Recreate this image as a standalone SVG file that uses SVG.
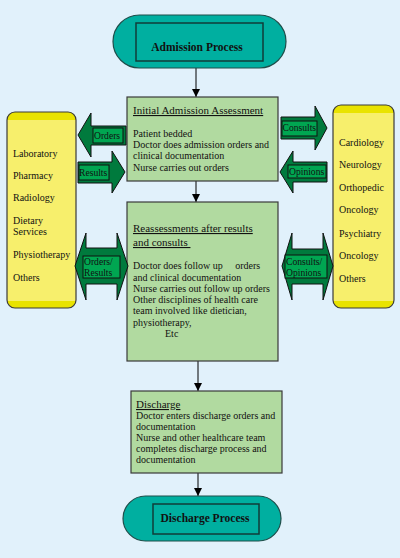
<svg xmlns="http://www.w3.org/2000/svg" width="400" height="558" viewBox="0 0 400 558">
<defs>
<marker id="ah" viewBox="0 0 10 10" refX="10" refY="5" markerWidth="8" markerHeight="9" markerUnits="userSpaceOnUse" orient="auto">
<path d="M0,0 L10,5 L0,10 Z" fill="#000"/>
</marker>
<style>
text{font-family:"Liberation Serif","Times New Roman",serif;fill:#111;}
.b{font-size:10px;}
.t{font-size:11px;text-decoration:underline;}
.p{font-size:11.5px;font-weight:bold;text-anchor:middle;}
.lbl{font-size:9.6px;}
.pill{fill:#00AFA0;stroke:#1F4E4A;stroke-width:1.2;}
.pin{fill:#00AFA0;stroke:#103C38;stroke-width:1.5;}
.box{fill:#B1DAA0;stroke:#3A3A3A;stroke-width:1.2;}
.ar{fill:#007A3D;stroke:#111;stroke-width:1;}
.al{fill:#00A651;stroke:#111;stroke-width:1;}
.cap{fill:#E9E300;}
.yl{fill:#F7EF6C;}
.yo{fill:none;stroke:#3A3A3A;stroke-width:1.2;}
.cn{stroke:#000;stroke-width:1;fill:none;marker-end:url(#ah);}
</style>
</defs>
<rect x="0" y="0" width="400" height="558" fill="#E1F1FB"/>

<g id="connectors">
<line class="cn" x1="196" y1="68" x2="196" y2="97"/>
<line class="cn" x1="196" y1="181" x2="196" y2="202"/>
<line class="cn" x1="198" y1="361" x2="198" y2="391"/>
<line class="cn" x1="198" y1="473" x2="198" y2="496"/>
</g>

<g id="admission-process">
<rect class="pill" x="113" y="15" width="173" height="53" rx="26.5"/>
<rect class="pin" x="136" y="23" width="127" height="38"/>
<text class="p" x="197" y="51">Admission Process</text>
</g>

<g id="initial-assessment">
<rect class="box" x="127" y="97" width="151" height="84"/>
<text class="t" x="133" y="114">Initial Admission Assessment</text>
<text class="b" x="133" y="137">Patient bedded</text>
<text class="b" x="133" y="148">Doctor does admission orders and</text>
<text class="b" x="133" y="159">clinical documentation</text>
<text class="b" x="133" y="171">Nurse carries out orders</text>
</g>

<g id="reassessments">
<rect class="box" x="127" y="202" width="151" height="159"/>
<text class="t" x="133" y="232">Reassessments after results</text>
<text class="t" x="133" y="246" xml:space="preserve">and consults </text>
<text class="b" x="133" y="269" xml:space="preserve">Doctor does follow up     orders</text>
<text class="b" x="133" y="280.5">and clinical documentation</text>
<text class="b" x="133" y="292">Nurse carries out follow up orders</text>
<text class="b" x="133" y="303">Other disciplines of health care</text>
<text class="b" x="133" y="314">team involved like dietician,</text>
<text class="b" x="133" y="325.5">physiotherapy,</text>
<text class="b" x="165" y="337">Etc</text>
</g>

<g id="discharge">
<rect class="box" x="131" y="391" width="151" height="82"/>
<text class="t" x="136" y="408">Discharge</text>
<text class="b" x="136" y="419">Doctor enters discharge orders and</text>
<text class="b" x="136" y="430">documentation</text>
<text class="b" x="136" y="441">Nurse and other healthcare team</text>
<text class="b" x="136" y="452">completes discharge process and</text>
<text class="b" x="136" y="463">documentation</text>
</g>

<g id="discharge-process">
<rect class="pill" x="123" y="496" width="158" height="45" rx="22.5"/>
<rect class="pin" x="153" y="504" width="106" height="30"/>
<text class="p" x="205" y="522">Discharge Process</text>
</g>

<g id="left-services">
<rect class="cap" x="7" y="112" width="69" height="196" rx="8"/>
<rect class="yl" x="7" y="120" width="69" height="181"/>
<rect class="yo" x="7" y="112" width="69" height="196" rx="8"/>
<text class="b" x="13" y="157">Laboratory</text>
<text class="b" x="13" y="179">Pharmacy</text>
<text class="b" x="13" y="201">Radiology</text>
<text class="b" x="13" y="224">Dietary</text>
<text class="b" x="13" y="235">Services</text>
<text class="b" x="13" y="258">Physiotherapy</text>
<text class="b" x="13" y="281">Others</text>
</g>

<g id="right-specialties">
<rect class="cap" x="333" y="105" width="61" height="203" rx="8"/>
<rect class="yl" x="333" y="113" width="61" height="188"/>
<rect class="yo" x="333" y="105" width="61" height="203" rx="8"/>
<text class="b" x="339" y="146">Cardiology</text>
<text class="b" x="339" y="168">Neurology</text>
<text class="b" x="339" y="191">Orthopedic</text>
<text class="b" x="339" y="213">Oncology</text>
<text class="b" x="339" y="237">Psychiatry</text>
<text class="b" x="339" y="259">Oncology</text>
<text class="b" x="339" y="282">Others</text>
</g>

<g id="arrow-orders">
<polygon class="ar" points="78,135 91,113 91,126 126,126 126,145 91,145 91,157"/>
<rect class="al" x="93" y="128" width="30" height="15"/>
<text class="lbl" x="94" y="139">Orders</text>
</g>

<g id="arrow-results">
<polygon class="ar" points="78,162 112,162 112,151 125,172 112,193 112,183 78,183"/>
<rect class="al" x="79" y="165" width="30" height="15"/>
<text class="lbl" x="79" y="176">Results</text>
</g>

<g id="arrow-consults">
<polygon class="ar" points="281,117 315,117 315,106 327,128 315,150 315,139 281,139"/>
<rect class="al" x="282" y="121" width="35" height="15"/>
<text class="lbl" x="282.5" y="131">Consults</text>
</g>

<g id="arrow-opinions">
<polygon class="ar" points="280,172 293,151 293,162 327,162 327,182 293,182 293,193"/>
<rect class="al" x="288" y="165" width="38" height="13"/>
<text class="lbl" x="289" y="175">Opinions</text>
</g>

<g id="arrow-orders-results">
<polygon class="ar" points="75,266 86,233 86,248 117,248 117,233 128,266 117,300 117,284 86,284 86,300"/>
<rect class="al" x="83" y="256" width="37" height="22"/>
<text class="lbl" x="84" y="265">Orders/</text>
<text class="lbl" x="84" y="276">Results</text>
</g>

<g id="arrow-consults-opinions">
<polygon class="ar" points="282,266 292,233 292,249 323,249 323,233 333,266 323,300 323,284 292,284 292,300"/>
<rect class="al" x="285" y="255" width="42" height="23"/>
<text class="lbl" x="286" y="265">Consults/</text>
<text class="lbl" x="286" y="276">Opinions</text>
</g>
</svg>
